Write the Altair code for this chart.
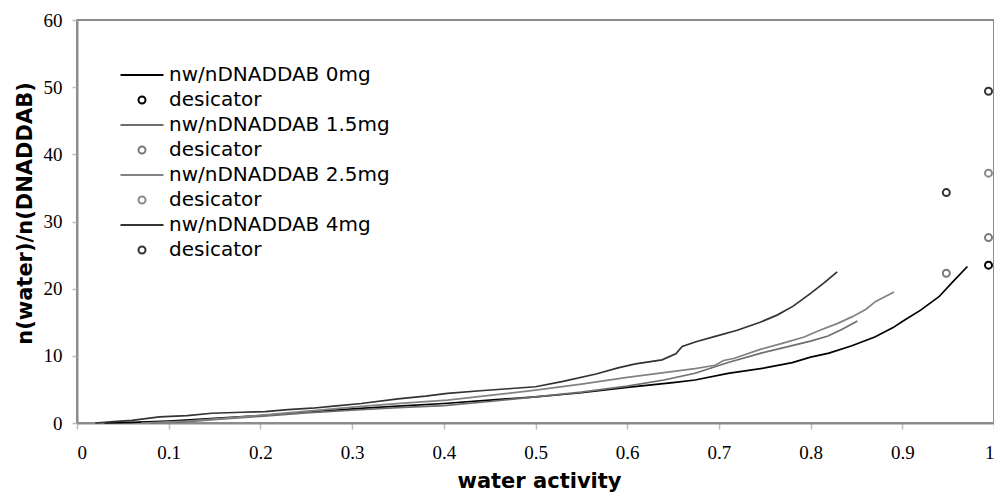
import altair as alt
import pandas as pd

# ---- data ----
aw_0mg = [0.03, 0.06, 0.10, 0.15, 0.20, 0.25, 0.30, 0.35, 0.40, 0.45, 0.50, 0.55, 0.60, 0.65,
          0.674, 0.71, 0.75, 0.78, 0.80, 0.82, 0.845, 0.87, 0.89, 0.90, 0.92, 0.94, 0.955, 0.971]
n_0mg = [0.0, 0.1, 0.3, 0.7, 1.1, 1.6, 2.1, 2.5, 2.9, 3.4, 3.9, 4.5, 5.3, 6.0,
         6.4, 7.4, 8.2, 9.0, 9.8, 10.4, 11.5, 12.8, 14.2, 15.1, 16.8, 18.8, 21.0, 23.3]

aw_15mg = [0.08, 0.12, 0.16, 0.20, 0.25, 0.30, 0.35, 0.40, 0.45, 0.50, 0.55, 0.60, 0.64,
           0.674, 0.71, 0.746, 0.782, 0.80, 0.819, 0.835, 0.851]
n_15mg = [0.0, 0.2, 0.6, 1.0, 1.5, 1.9, 2.3, 2.6, 3.2, 3.9, 4.6, 5.5, 6.4,
          7.4, 9.0, 10.4, 11.6, 12.2, 12.95, 14.0, 15.2]

aw_25mg = [0.07, 0.12, 0.17, 0.22, 0.27, 0.32, 0.36, 0.404, 0.45, 0.50, 0.55, 0.60, 0.64,
           0.674, 0.696, 0.705, 0.716, 0.746, 0.77, 0.793, 0.81, 0.829, 0.845, 0.86, 0.871, 0.891]
n_25mg = [0.0, 0.3, 0.8, 1.4, 2.0, 2.6, 3.0, 3.4, 4.1, 4.9, 5.8, 6.8, 7.5,
          8.1, 8.6, 9.3, 9.6, 11.0, 11.9, 12.8, 13.8, 14.8, 15.8, 16.9, 18.1, 19.5]

aw_4mg = [0.02, 0.04, 0.06, 0.09, 0.12, 0.147, 0.18, 0.205, 0.23, 0.256, 0.28, 0.31, 0.35,
          0.38, 0.404, 0.44, 0.47, 0.50, 0.53, 0.566, 0.59, 0.609, 0.638, 0.653, 0.66, 0.675,
          0.696, 0.72, 0.745, 0.764, 0.781, 0.80, 0.815, 0.829]
n_4mg = [0.0, 0.2, 0.4, 0.9, 1.1, 1.45, 1.6, 1.7, 2.0, 2.2, 2.5, 2.9, 3.6,
         4.0, 4.4, 4.8, 5.1, 5.4, 6.2, 7.3, 8.2, 8.8, 9.4, 10.3, 11.4, 12.1,
         12.9, 13.8, 15.0, 16.1, 17.4, 19.3, 20.9, 22.5]

line_names = ["nw/nDNADDAB 0mg", "nw/nDNADDAB 1.5mg", "nw/nDNADDAB 2.5mg", "\u00a0nw/nDNADDAB 4mg"]
des_names = ["desicator (0mg)", "desicator (1.5mg)", "desicator (2.5mg)", "desicator (4mg)"]

des_aw = [0.994, 0.994, 0.948, 0.994, 0.994, 0.948]
des_n = [23.5, 27.6, 22.3, 37.2, 49.4, 34.3]
des_series = [des_names[0], des_names[1], des_names[1], des_names[2], des_names[3], des_names[3]]

line_colors = ["#000000", "#6e6e6e", "#828282", "#333333"]
des_colors = ["#000000", "#7a7a7a", "#8a8a8a", "#333333"]

x_ticks = [0, 0.1, 0.2, 0.3, 0.4, 0.5, 0.6, 0.7, 0.8, 0.9, 1.0]
y_ticks = [0, 10, 20, 30, 40, 50, 60]

# ---- tables ----
rows = []
for name, xs, ys in zip(line_names, [aw_0mg, aw_15mg, aw_25mg, aw_4mg],
                        [n_0mg, n_15mg, n_25mg, n_4mg]):
    for a, b in zip(xs, ys):
        rows.append({"aw": a, "n": b, "entry": name})
lines_df = pd.DataFrame(rows)
des_df = pd.DataFrame({"aw": des_aw, "n": des_n, "entry": des_series})

domain = []
colors = []
shapes = []
line_path = "M-4.3,0H4.3"
circle_path = "M0.7,0A0.7,0.7,0,1,1,-0.7,0A0.7,0.7,0,1,1,0.7,0Z"
for i in range(4):
    domain += [line_names[i], des_names[i]]
    colors += [line_colors[i], des_colors[i]]
    shapes += [line_path, circle_path]

legend = alt.Legend(
    title=None,
    orient="none",
    legendX=55,
    legendY=45,
    padding=0,
    labelFont="DejaVu Sans",
    labelFontSize=20,
    labelColor="#000000",
    labelOffset=17,
    labelLimit=500,
    rowPadding=5,
    symbolSize=100,
    symbolStrokeWidth=2,
    labelExpr="indexof(datum.label, 'desicator') >= 0 ? 'desicator' : datum.label",
)

color_scale = alt.Scale(domain=domain, range=colors)
shape_scale = alt.Scale(domain=domain, range=shapes)

PLOT_W = 917
PLOT_H = 403

x_enc = alt.X(
    "aw:Q",
    scale=alt.Scale(domain=[0, 1], nice=False),
    axis=alt.Axis(
        title="water activity",
        values=x_ticks,
        format=".1~f",
        titleX=462,
        titleY=64,
        titleBaseline="alphabetic",
        titleAlign="center",
    ),
)
y_enc = alt.Y(
    "n:Q",
    scale=alt.Scale(domain=[0, 60], nice=False),
    axis=alt.Axis(
        title="n(water)/n(DNADDAB)",
        values=y_ticks,
        titleX=-52,
        titleY=193,
        titleAngle=270,
        titleBaseline="middle",
        titleAlign="center",
    ),
)

lines = alt.Chart(lines_df).mark_line(strokeWidth=1.7).encode(
    x=x_enc,
    y=y_enc,
    color=alt.Color("entry:N", scale=color_scale, legend=legend),
)

points = alt.Chart(des_df).mark_point(filled=False, size=100, strokeWidth=2, opacity=1).encode(
    x=x_enc,
    y=y_enc,
    color=alt.Color("entry:N", scale=color_scale, legend=legend),
    shape=alt.Shape("entry:N", scale=shape_scale, legend=legend),
)

chart = alt.layer(lines, points).properties(
    width=PLOT_W,
    height=PLOT_H,
    padding={"left": 69, "top": 12, "right": 0, "bottom": 70},
    autosize=alt.AutoSizeParams(type="none"),
).configure_view(
    stroke="#8c8c8c",
    strokeWidth=2,
).configure_axis(
    grid=False,
    domainColor="#8c8c8c",
    domainWidth=2,
    tickColor="#bdbdbd",
    tickWidth=1.5,
    labelFont="Liberation Serif",
    labelFontSize=19,
    labelColor="#000000",
    titleFont="DejaVu Sans",
    titleFontSize=21,
    titleFontWeight="bold",
    titleColor="#000000",
).configure_axisX(
    tickSize=6,
    labelPadding=14,
).configure_axisY(
    tickSize=5,
    labelPadding=10,
)

chart.save("out.html", embed_options={"renderer": "svg", "actions": False})
